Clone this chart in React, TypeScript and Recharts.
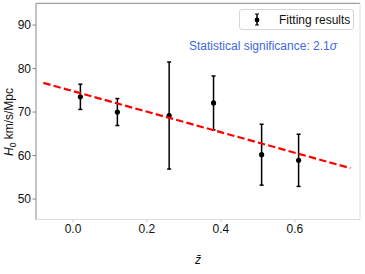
import {
  ComposedChart,
  ErrorBar,
  Legend,
  ReferenceLine,
  Scatter,
  XAxis,
  YAxis,
} from "recharts";

const zBar = [0.02, 0.12, 0.26, 0.38, 0.51, 0.61];
const h0 = [73.5, 70.0, 69.2, 72.1, 60.2, 58.9];
const h0Err = [2.9, 3.1, 12.3, 6.2, 7.0, 6.0];

const fitZ = [-0.08, 0.75];
const fitH0 = [76.7, 57.1];

const xTicks = [0, 0.2, 0.4, 0.6];
const yTicks = [50, 60, 70, 80, 90];
const xDomain: [number, number] = [-0.1, 0.776];
const yDomain: [number, number] = [45.3, 95];

const points = zBar.map((z, i) => ({ z, h0: h0[i], err: h0Err[i] }));
const fitLine = fitZ.map((z, i) => ({ z, h0: fitH0[i] }));

const FONT = "'Liberation Sans', Arial, sans-serif";

const Dot = (props: any) => (
  <circle cx={props.cx} cy={props.cy} r={2.6} fill="#000" />
);

const YLabel = () => (
  <text
    x={0}
    y={0}
    transform="translate(13, 122) rotate(-90)"
    textAnchor="middle"
    fontSize={12}
    fontFamily={FONT}
    fill="#111"
  >
    <tspan fontStyle="italic">H</tspan>
    <tspan fontSize={8.5} dy={3}>0</tspan>
    <tspan dy={-3}> km/s/Mpc</tspan>
  </text>
);

const LegendBox = () => (
  <div
    style={{
      width: 115,
      height: 21,
      border: "1px solid #d6d6d6",
      borderRadius: 3,
      background: "#fff",
      boxSizing: "border-box",
      display: "flex",
      alignItems: "center",
      fontFamily: FONT,
      fontSize: 12,
      color: "#111",
    }}
  >
    <svg width={38} height={19}>
      <line x1={17} x2={17} y1={4} y2={15} stroke="#000" strokeWidth={1.5} />
      <line x1={15} x2={19} y1={4} y2={4} stroke="#000" strokeWidth={1} />
      <line x1={15} x2={19} y1={15} y2={15} stroke="#000" strokeWidth={1} />
      <circle cx={17} cy={10} r={2.4} fill="#000" />
    </svg>
    <span style={{ marginLeft: 1 }}>Fitting results</span>
  </div>
);

export default function App() {
  return (
    <div style={{ position: "absolute", left: 0, top: 0, width: 365, height: 274, background: "#fff" }}>
      <ComposedChart
        width={365}
        height={274}
        margin={{ top: 3.3, right: 5, bottom: 0, left: 0 }}
      >
        <XAxis
          type="number"
          dataKey="z"
          domain={xDomain}
          ticks={xTicks}
          tickFormatter={(v: number) => v.toFixed(1)}
          allowDataOverflow
          height={33.5}
          axisLine={{ stroke: "#dcdcdc" }}
          tickLine={{ stroke: "#cfcfcf" }}
          tickSize={3}
          tickMargin={1.5}
          tick={{ fontSize: 12, fill: "#111", fontFamily: FONT }}
        />
        <YAxis
          type="number"
          dataKey="h0"
          domain={yDomain}
          ticks={yTicks}
          allowDataOverflow
          width={36}
          axisLine={{ stroke: "#888" }}
          tickLine={{ stroke: "#888" }}
          tickSize={3.5}
          tickMargin={1.5}
          tick={{ fontSize: 12, fill: "#111", fontFamily: FONT }}
          label={<YLabel />}
        />
        <ReferenceLine y={yDomain[1]} stroke="#888" />
        <ReferenceLine x={xDomain[1]} stroke="#dcdcdc" />
        <Scatter
          data={points}
          dataKey="h0"
          shape={Dot}
          isAnimationActive={false}
          legendType="none"
        >
          <ErrorBar
            dataKey="err"
            direction="y"
            width={2}
            stroke="#000"
            strokeWidth={1.5}
            isAnimationActive={false}
          />
        </Scatter>
        <Scatter
          data={fitLine}
          dataKey="h0"
          shape={() => <g />}
          line={{ stroke: "#ff0000", strokeWidth: 2.2, strokeDasharray: "7.4 3.2" }}
          isAnimationActive={false}
          legendType="none"
        />
        <Legend
          content={() => <LegendBox />}
          wrapperStyle={{ position: "absolute", left: 239, top: 9, width: 116 }}
        />
      </ComposedChart>
      <div
        style={{
          position: "absolute",
          left: 189,
          top: 39,
          fontFamily: FONT,
          fontSize: 12,
          color: "#4169e1",
          whiteSpace: "nowrap",
        }}
      >
        Statistical significance: 2.1<i>σ</i>
      </div>
      <div
        style={{
          position: "absolute",
          left: 195,
          top: 253,
          fontFamily: FONT,
          fontSize: 12,
          fontStyle: "italic",
          color: "#111",
        }}
      >
        z̄
      </div>
    </div>
  );
}
